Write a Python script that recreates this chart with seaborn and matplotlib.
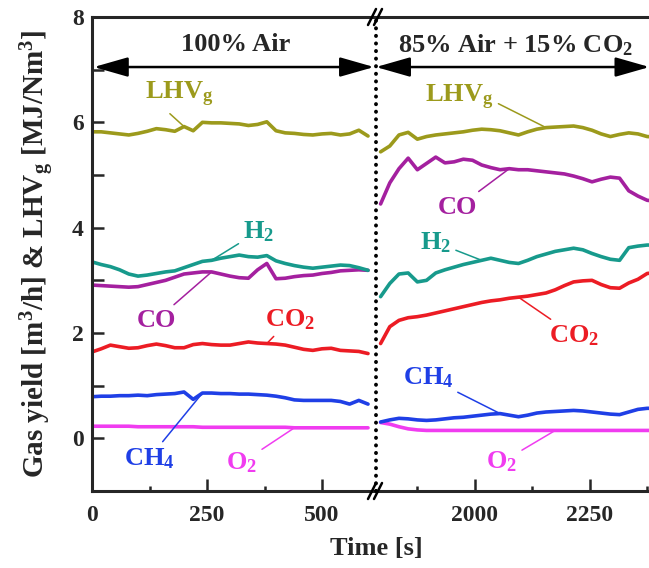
import matplotlib
matplotlib.use("Agg")
import matplotlib.pyplot as plt
from matplotlib.ticker import MultipleLocator, FixedLocator
import seaborn as sns
import pandas as pd

# ─────────────────────────────────────────────
# DATA
# ─────────────────────────────────────────────

# 100 % air period
t_left = [0, 20, 40, 60, 80, 100, 120, 140, 160, 180, 200, 220, 240, 260, 280,
          300, 320, 340, 360, 380, 400, 420, 440, 460, 480, 500, 520, 540, 560, 580, 600]
lhv_left = [5.82, 5.82, 5.80, 5.78, 5.76, 5.79, 5.83, 5.88, 5.86, 5.83, 5.92, 5.84, 6.00,
            5.99, 5.99, 5.98, 5.97, 5.94, 5.96, 6.01, 5.84, 5.80, 5.79, 5.77, 5.76, 5.78,
            5.79, 5.76, 5.78, 5.85, 5.74]
h2_left = [3.35, 3.30, 3.26, 3.20, 3.12, 3.08, 3.10, 3.13, 3.16, 3.18, 3.24, 3.30, 3.36,
           3.38, 3.42, 3.45, 3.48, 3.45, 3.44, 3.47, 3.37, 3.32, 3.28, 3.25, 3.23, 3.25,
           3.27, 3.29, 3.28, 3.24, 3.19]
co_left = [2.91, 2.90, 2.89, 2.88, 2.87, 2.88, 2.92, 2.96, 3.00, 3.06, 3.12, 3.14, 3.16,
           3.16, 3.12, 3.08, 3.05, 3.04, 3.20, 3.32, 3.03, 3.04, 3.07, 3.09, 3.10, 3.13,
           3.15, 3.18, 3.19, 3.20, 3.19]
co2_left = [1.64, 1.70, 1.77, 1.74, 1.71, 1.72, 1.76, 1.79, 1.76, 1.72, 1.72, 1.78, 1.80,
            1.78, 1.77, 1.77, 1.80, 1.83, 1.81, 1.80, 1.79, 1.77, 1.73, 1.69, 1.67, 1.70,
            1.71, 1.67, 1.66, 1.65, 1.61]
ch4_left = [0.79, 0.80, 0.80, 0.81, 0.81, 0.82, 0.81, 0.83, 0.84, 0.85, 0.88, 0.74, 0.86,
            0.86, 0.85, 0.85, 0.84, 0.84, 0.83, 0.82, 0.80, 0.77, 0.73, 0.72, 0.72, 0.72,
            0.72, 0.70, 0.65, 0.72, 0.65]
o2_left = [0.23, 0.23, 0.23, 0.23, 0.23, 0.22, 0.22, 0.22, 0.22, 0.22, 0.22, 0.22, 0.21,
           0.21, 0.21, 0.21, 0.21, 0.21, 0.21, 0.21, 0.21, 0.21, 0.20, 0.20, 0.20, 0.20,
           0.20, 0.20, 0.20, 0.20, 0.20]

# 85 % air + 15 % CO2 period
t_right = [1795, 1815, 1835, 1855, 1875, 1895, 1915, 1935, 1955, 1975, 1995, 2015, 2035,
           2055, 2075, 2095, 2115, 2135, 2155, 2175, 2195, 2215, 2235, 2255, 2275, 2295,
           2315, 2335, 2355, 2375, 2395]
lhv_right = [5.44, 5.55, 5.76, 5.81, 5.68, 5.73, 5.76, 5.78, 5.80, 5.82, 5.85, 5.87, 5.86,
             5.84, 5.80, 5.76, 5.82, 5.87, 5.90, 5.91, 5.92, 5.93, 5.90, 5.85, 5.78, 5.73,
             5.77, 5.80, 5.78, 5.73, 5.72]
co_right = [4.45, 4.85, 5.12, 5.32, 5.10, 5.22, 5.34, 5.23, 5.25, 5.30, 5.28, 5.19, 5.14,
            5.10, 5.12, 5.10, 5.10, 5.08, 5.06, 5.04, 5.02, 4.98, 4.93, 4.87, 4.92, 4.96,
            4.94, 4.70, 4.60, 4.52, 4.50]
h2_right = [2.69, 2.94, 3.12, 3.14, 2.97, 3.00, 3.14, 3.20, 3.25, 3.30, 3.34, 3.38, 3.42,
            3.38, 3.34, 3.32, 3.38, 3.45, 3.50, 3.55, 3.58, 3.61, 3.58, 3.51, 3.45, 3.40,
            3.38, 3.62, 3.65, 3.67, 3.67]
co2_right = [1.80, 2.12, 2.24, 2.29, 2.31, 2.34, 2.38, 2.42, 2.46, 2.50, 2.54, 2.58, 2.61,
             2.63, 2.66, 2.68, 2.70, 2.73, 2.76, 2.82, 2.90, 2.97, 2.99, 3.00, 2.92, 2.86,
             2.85, 2.95, 3.02, 3.13, 3.15]
ch4_right = [0.31, 0.35, 0.38, 0.37, 0.35, 0.34, 0.35, 0.37, 0.39, 0.40, 0.42, 0.44, 0.46,
             0.47, 0.44, 0.41, 0.44, 0.48, 0.50, 0.51, 0.52, 0.53, 0.52, 0.50, 0.48, 0.46,
             0.45, 0.50, 0.55, 0.57, 0.57]
o2_right = [0.30, 0.27, 0.22, 0.18, 0.16, 0.15, 0.15, 0.15, 0.15, 0.15, 0.15, 0.15, 0.15,
            0.15, 0.15, 0.15, 0.15, 0.15, 0.15, 0.15, 0.15, 0.15, 0.15, 0.15, 0.15, 0.15,
            0.15, 0.15, 0.15, 0.15, 0.15]

# ─────────────────────────────────────────────
# STYLE
# ─────────────────────────────────────────────

COLORS = {
    "LHV": "#9c9a1c",
    "H2": "#179a8c",
    "CO": "#a4209f",
    "CO2": "#ec1c24",
    "CH4": "#1f3fe6",
    "O2": "#f03cf0",
}

sns.set_style("ticks")
plt.rcParams["font.family"] = ["Liberation Serif", "DejaVu Serif"]
plt.rcParams["font.weight"] = "bold"
plt.rcParams["axes.labelweight"] = "bold"
plt.rcParams["mathtext.default"] = "regular"

LW = 2.6
FS_TICK = 17
FS_TXT = 19

fig = plt.figure(figsize=(6.49, 5.68), dpi=100)
W, H = 649, 568
ax1 = fig.add_axes([92 / W, 77 / H, (374 - 92) / W, 474 / H])
ax2 = fig.add_axes([376 / W, 77 / H, (700 - 376) / W, 474 / H])

left = pd.DataFrame({"t": t_left, "LHV": lhv_left, "H2": h2_left, "CO": co_left,
                     "CO2": co2_left, "CH4": ch4_left, "O2": o2_left})
right = pd.DataFrame({"t": t_right, "LHV": lhv_right, "H2": h2_right, "CO": co_right,
                      "CO2": co2_right, "CH4": ch4_right, "O2": o2_right})

for ax, df in [(ax1, left), (ax2, right)]:
    for key in ["O2", "CH4", "CO2", "CO", "H2", "LHV"]:
        sns.lineplot(data=df, x="t", y=key, ax=ax, color=COLORS[key], lw=LW,
                     legend=False, solid_joinstyle="round")
    ax.set_ylim(-1, 8)
    ax.set_xlabel("")
    ax.set_ylabel("")

ax1.set_xlim(0, 613)
ax2.set_xlim(1785, 2490)

# spines / ticks
for ax in (ax1, ax2):
    for s in ax.spines.values():
        s.set_linewidth(2.2)
    ax.tick_params(axis="both", direction="in", width=1.8, labelsize=FS_TICK)
    ax.tick_params(axis="x", which="major", length=9, pad=10)
    ax.tick_params(axis="x", which="minor", length=3.5, width=1.8, direction="in")
    ax.spines["right"].set_visible(False)
    for lab in ax.get_xticklabels() + ax.get_yticklabels():
        lab.set_fontweight("bold")

ax1.xaxis.set_major_locator(FixedLocator([0, 250, 500]))
ax1.xaxis.set_minor_locator(FixedLocator([125, 375]))
ax2.xaxis.set_major_locator(FixedLocator([2000, 2250]))
ax2.xaxis.set_minor_locator(FixedLocator([1875, 2125, 2375]))
ax1.yaxis.set_major_locator(MultipleLocator(2))
ax1.yaxis.set_minor_locator(MultipleLocator(1))
ax1.tick_params(axis="y", which="both", length=8.5, width=1.8, direction="in", pad=6)
ax2.spines["left"].set_visible(False)
ax2.tick_params(axis="y", which="both", left=False, labelleft=False)

ax1.set_ylabel("Gas yield [m$^3$/h] & LHV$_g$ [MJ/Nm$^3$]", fontsize=21,
               fontweight="bold", labelpad=11)
fig.text(376 / W, 1 - 549 / H, "Time [s]", ha="center", va="center",
         fontsize=19, fontweight="bold")

# dotted separator and break marks
ax2.axvline(1785, color="black", lw=2.8, ls=(0, (0.05, 1.9)), dash_capstyle="round",
            clip_on=False, zorder=5)
for yb in (77 / H, 1 - 17 / H):
    for dx in (-3, 3):
        xc = (375 + dx) / W
        fig.add_artist(plt.Line2D([xc - 4 / W, xc + 4 / W], [yb - 8 / H, yb + 8 / H],
                                  color="black", lw=1.8))

# condition arrows and titles
arrow_kw = dict(arrowstyle="<|-|>,head_length=1.05,head_width=0.3", color="black",
                lw=1.8, mutation_scale=20, shrinkA=0, shrinkB=0)
ax1.annotate("", xy=(4, 7.05), xytext=(613, 7.05), arrowprops=arrow_kw,
             annotation_clip=False)
ax2.annotate("", xy=(1785, 7.05), xytext=(2380, 7.05), arrowprops=arrow_kw,
             annotation_clip=False)
ax1.text(313, 7.47, "100% Air", ha="center", va="center", fontsize=FS_TXT,
         fontweight="bold")
ax2.text(2089, 7.47, "85% Air + 15% CO$_2$", ha="center", va="center", fontsize=FS_TXT,
         fontweight="bold")

# series labels with leader lines
def label(ax, df, key, idx, txt, tx, ty, relpos=(0.5, 0.5)):
    ax.annotate(txt, xy=(df["t"][idx], df[key][idx]), xytext=(tx, ty),
                ha="center", va="center", color=COLORS[key], fontsize=FS_TXT,
                fontweight="bold",
                arrowprops=dict(arrowstyle="-", color=COLORS[key], lw=1.1,
                                shrinkA=1, shrinkB=0, relpos=relpos))

label(ax1, left, "LHV", 10, "LHV$_g$", 189, 6.52, relpos=(0.3, 0.0))
label(ax1, left, "H2", 13, "H$_2$", 362, 3.93)
label(ax1, left, "CO", 13, "CO", 139, 2.24)
label(ax1, left, "CO2", 19, "CO$_2$", 430, 2.25)
label(ax1, left, "CH4", 12, "CH$_4$", 124, -0.38)
label(ax1, left, "O2", 22, "O$_2$", 326, -0.46)

label(ax2, right, "LHV", 18, "LHV$_g$", 1967, 6.48, relpos=(1.0, 0.35))
label(ax2, right, "CO", 14, "CO", 1963, 4.39)
label(ax2, right, "H2", 11, "H$_2$", 1915, 3.72)
label(ax2, right, "CO2", 15, "CO$_2$", 2217, 1.95)
label(ax2, right, "CH4", 13, "CH$_4$", 1898, 1.16)
label(ax2, right, "O2", 19, "O$_2$", 2059, -0.45)

plt.savefig("out.png", dpi=100)
